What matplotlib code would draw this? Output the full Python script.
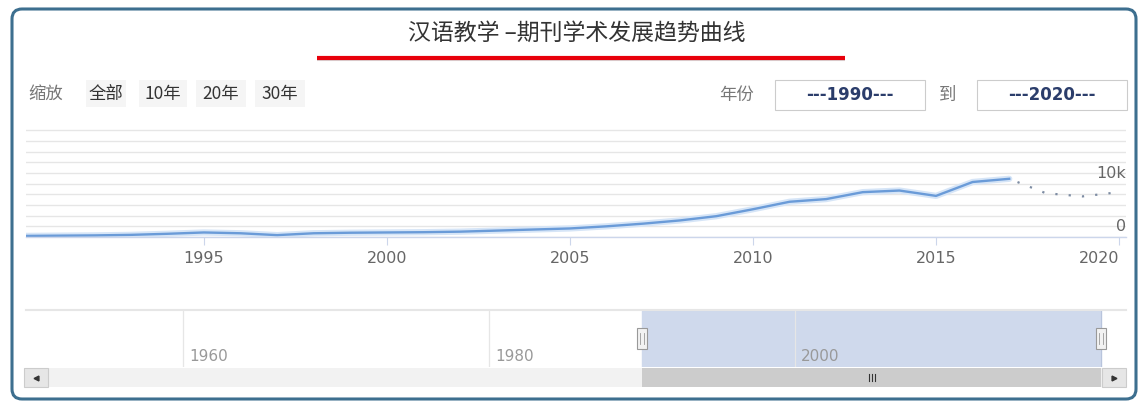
"""汉语教学 期刊学术发展趋势曲线 (Highstock 风格截图复刻)."""

import matplotlib
matplotlib.use("Agg")
import matplotlib.pyplot as plt
import matplotlib.transforms as mtransforms
from matplotlib.patches import FancyBboxPatch, Rectangle
import numpy as np

plt.rcParams["font.family"] = ["Noto Sans CJK SC", "DejaVu Sans"]

# ---- 数据 ----
TITLE = "汉语教学 –期刊学术发展趋势曲线"
YEARS = list(range(1990, 2018))
PAPERS = [200, 250, 300, 400, 600, 850, 700, 350, 700, 800,
          850, 900, 1000, 1200, 1400, 1600, 2000, 2500, 3100, 3900,
          5200, 6600, 7100, 8400, 8700, 7700, 10300, 10900]
FORECAST_YEARS = [2017, 2018, 2019, 2020]
FORECAST = [10900, 8200, 7600, 8400]

X_TICKS = [1995, 2000, 2005, 2010, 2015, 2020]
Y_LABEL_VALUES = [0, 10000]
Y_LABELS = ["0", "10k"]
NAV_TICKS = [1960, 1980, 2000]
RANGE_FROM, RANGE_TO = 1990, 2020

ZOOM_LABEL = "缩放"
ZOOM_BUTTONS = ["全部", "10年", "20年", "30年"]
YEAR_LABEL = "年份"
TO_LABEL = "到"
FROM_TEXT = "---1990---"
TO_TEXT = "---2020---"

# ---- 版式 ----
W, H = 1141, 404
LINE_C = "#6a9bd8"
GRID_C = "#e6e6e6"
AXIS_C = "#ccd6eb"
NX0, NX1 = 1949.74, 2021.63          # navigator x range
PLOT_L, PLOT_R = 26, 1126


def px_rect(x0, y0, x1, y1):
    return [x0 / W, 1 - y1 / H, (x1 - x0) / W, (y1 - y0) / H]


def nav_px(year):
    return PLOT_L + (year - NX0) / (NX1 - NX0) * (PLOT_R - PLOT_L)


fig = plt.figure(figsize=(W / 100, H / 100), dpi=100, facecolor="white")

# 背景画布 (像素坐标)
bg = fig.add_axes([0, 0, 1, 1])
bg.set_xlim(0, W)
bg.set_ylim(H, 0)
bg.axis("off")

bg.add_patch(FancyBboxPatch((12, 9), 1124, 390,
                            boxstyle="round,pad=0,rounding_size=10",
                            fc="white", ec="#3d6f8f", lw=2.2))

bg.text(577, 33, TITLE, ha="center", va="center", fontsize=16.5, color="#333333")
bg.plot([317, 845], [60, 60], color="#d9d9d9", lw=1.5, solid_capstyle="butt")
bg.plot([317, 845], [57.5, 57.5], color="#e8000b", lw=3, solid_capstyle="butt")

# 缩放按钮
bg.text(46, 94, ZOOM_LABEL, ha="center", va="center", fontsize=12.5, color="#777777")
btn_x = [106, 163, 221, 280]
btn_w = [40, 48, 50, 50]
for cx, bw, lab in zip(btn_x, btn_w, ZOOM_BUTTONS):
    bg.add_patch(Rectangle((cx - bw / 2, 80), bw, 27, fc="#f5f5f5", ec="none"))
    bg.text(cx, 94, lab, ha="center", va="center", fontsize=12.5, color="#333333")

# 年份输入框
bg.text(736, 95, YEAR_LABEL, ha="center", va="center", fontsize=12.5, color="#777777")
bg.text(948, 95, TO_LABEL, ha="center", va="center", fontsize=12.5, color="#777777")
for x0, txt in [(775, FROM_TEXT), (977, TO_TEXT)]:
    bg.add_patch(Rectangle((x0, 80), 150, 30, fc="white", ec="#cccccc", lw=0.8))
    bg.text(x0 + 75, 95, txt, ha="center", va="center", fontsize=12,
            fontweight="bold", color="#2b3d6b", family="DejaVu Sans")

# ---- 主图 ----
ax = fig.add_axes(px_rect(PLOT_L, 127, PLOT_R, 237))
ax.set_facecolor("none")
ax.set_xlim(1990.14, 2020.19)
ax.set_ylim(0, 20600)
ax.set_yticks(np.arange(0, 20001, 2000))
ax.yaxis.grid(True, color=GRID_C, lw=1)
ax.set_axisbelow(True)
ax.tick_params(axis="y", left=False, labelleft=False)
for s in ["top", "left", "right"]:
    ax.spines[s].set_visible(False)
ax.spines["bottom"].set_color(AXIS_C)
ax.spines["bottom"].set_linewidth(1)

ax.set_xticks(X_TICKS)
ax.set_xticklabels([str(y) for y in X_TICKS], family="DejaVu Sans")
ax.tick_params(axis="x", length=6, width=0.8, color=AXIS_C, labelcolor="#666666",
               labelsize=11.5, pad=4)
ax.get_xticklabels()[-1].set_ha("right")

ax.plot(YEARS, PAPERS, color="#d6e5f7", lw=4.5, solid_capstyle="round")
ax.plot(YEARS, PAPERS, color=LINE_C, lw=1.7)
ax.plot(FORECAST_YEARS, FORECAST, color="#7d8ca3", lw=1.6, linestyle=(2, (1, 5)))

ylab_tr = mtransforms.offset_copy(
    mtransforms.blended_transform_factory(ax.transAxes, ax.transData),
    fig=fig, x=0, y=3, units="dots")
for v, lab in zip(Y_LABEL_VALUES, Y_LABELS):
    ax.text(1.0, v, lab, transform=ylab_tr, ha="right", va="bottom",
            fontsize=11.5, color="#666666", family="DejaVu Sans")

# ---- 导航器 ----
nav = fig.add_axes(px_rect(PLOT_L, 310, PLOT_R, 367))
nav.set_facecolor("none")
nav.set_xlim(NX0, NX1)
nav.set_ylim(0, 1)
nav.set_xticks([])
nav.set_yticks([])
for s in ["bottom", "left", "right"]:
    nav.spines[s].set_visible(False)
nav.spines["top"].set_color(GRID_C)
nav.spines["top"].set_linewidth(1.5)

nav.axvspan(RANGE_FROM, RANGE_TO, color="#cfd9ec", zorder=1)
lab_tr = mtransforms.offset_copy(nav.transData, fig=fig, x=6, y=0, units="dots")
for yr in NAV_TICKS:
    nav.axvline(yr, color=GRID_C, lw=0.9, zorder=2)
    nav.text(yr, 0.18, str(yr), transform=lab_tr, ha="left", va="center",
             fontsize=11, color="#999999", family="DejaVu Sans", zorder=3)
nav.axvline(RANGE_TO, color="#b8c4dc", lw=0.8, zorder=2)

hw = 10 * (NX1 - NX0) / (PLOT_R - PLOT_L)
for yr in [RANGE_FROM, RANGE_TO]:
    nav.add_patch(Rectangle((yr - hw / 2, 0.31), hw, 0.38, fc="#f2f2f2",
                            ec="#999999", lw=0.8, zorder=4))
    for dx in (-0.12, 0.12):
        nav.plot([yr + dx, yr + dx], [0.4, 0.6], color="#999999", lw=0.6, zorder=5)

# ---- 滚动条 ----
sy, sh = 368, 19
bg.add_patch(Rectangle((24, sy), 1102, sh, fc="#f2f2f2", ec="none", zorder=1))
tx0, tx1 = nav_px(RANGE_FROM), nav_px(RANGE_TO)
bg.add_patch(Rectangle((tx0, sy), tx1 - tx0, sh, fc="#cccccc", ec="none", zorder=2))
for gx in (-3, 0, 3):
    cx = (tx0 + tx1) / 2 + gx
    bg.plot([cx, cx], [sy + 6, sy + 13], color="#333333", lw=0.8, zorder=3)
for bx, mk in [(24, "<"), (1102, ">")]:
    bg.add_patch(Rectangle((bx, sy), 24, sh, fc="#e6e6e6", ec="#cccccc", lw=0.8, zorder=3))
    bg.plot(bx + 12, sy + sh / 2, marker=mk, ms=3.5, color="#333333", zorder=4)

fig.savefig("out.png", dpi=100)
